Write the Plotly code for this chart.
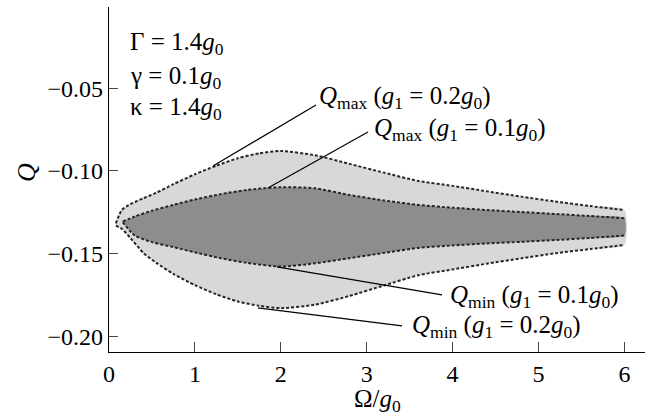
import plotly.graph_objects as go

# ---- data ----
omega_g02 = [0.08, 0.15, 0.25, 0.4, 0.55, 0.75, 1.0, 1.25, 1.5, 1.75, 2.0, 2.4, 2.8, 3.2, 3.6, 4.0, 4.4, 4.8, 5.2, 5.6, 6.0]
qmax_g02 = [-0.1316, -0.1235, -0.1200, -0.1165, -0.1132, -0.1080, -0.1020, -0.0968, -0.0923, -0.0893, -0.0879,
            -0.0905, -0.0957, -0.1010, -0.1060, -0.1090, -0.1123, -0.1155, -0.1185, -0.1212, -0.1236]
qmin_g02 = [-0.1330, -0.1350, -0.1405, -0.1495, -0.1555, -0.1622, -0.1690, -0.1745, -0.1789, -0.1815, -0.1829,
            -0.1808, -0.1755, -0.1692, -0.1630, -0.1595, -0.1560, -0.1528, -0.1497, -0.1472, -0.1447]

omega_g01 = [0.16, 0.3, 0.5, 0.75, 1.0, 1.3, 1.6, 2.0, 2.4, 2.8, 3.2, 3.6, 4.0, 4.4, 4.8, 5.2, 5.6, 6.0]
qmax_g01 = [-0.1306, -0.1275, -0.1240, -0.1205, -0.1172, -0.1140, -0.1115, -0.1098, -0.1105, -0.1145, -0.1178,
            -0.1205, -0.1222, -0.1236, -0.1248, -0.1260, -0.1272, -0.1286]
qmin_g01 = [-0.1310, -0.1390, -0.1430, -0.1460, -0.1492, -0.1527, -0.1555, -0.1578, -0.1558, -0.1527, -0.1495,
            -0.1465, -0.1450, -0.1438, -0.1428, -0.1417, -0.1405, -0.1390]

x_ticks = [0, 1, 2, 3, 4, 5, 6]
y_ticks = [-0.20, -0.15, -0.10, -0.05]
y_tick_labels = ["\u22120.20", "\u22120.15", "\u22120.10", "\u22120.05"]

FONT = "Liberation Serif, Times New Roman, serif"
LIGHT = "#d8d8d8"
DARK = "#8d8d8d"
LINE = "#262626"

fig = go.Figure()

def band(xs, upper, lower, color):
    fig.add_trace(go.Scatter(
        x=xs + xs[::-1], y=upper + lower[::-1], mode="lines",
        line=dict(width=0, shape="spline", smoothing=0.6), fill="toself", fillcolor=color,
        hoverinfo="skip", showlegend=False))

def dashed(xs, ys):
    fig.add_trace(go.Scatter(
        x=xs, y=ys, mode="lines",
        line=dict(color=LINE, width=2, dash="3px,2px", shape="spline", smoothing=0.6),
        hoverinfo="skip", showlegend=False))

band(omega_g02, qmax_g02, qmin_g02, LIGHT)
band(omega_g01, qmax_g01, qmin_g01, DARK)
dashed(omega_g02, qmax_g02)
dashed(omega_g02, qmin_g02)
dashed(omega_g01, qmax_g01)
dashed(omega_g01, qmin_g01)

# leader lines
leaders = [
    (1.21, -0.0970, 2.41, -0.0601),
    (1.85, -0.1103, 3.015, -0.0765),
    (1.955, -0.1580, 3.877, -0.1749),
    (1.733, -0.1827, 3.411, -0.1936),
]
for x0, y0, x1, y1 in leaders:
    fig.add_shape(type="line", x0=x0, y0=y0, x1=x1, y1=y1, xref="x", yref="y",
                  line=dict(color="black", width=1.2))

labels = [
    (2.424, -0.0553, "<i>Q</i><sub>max</sub> (<i>g</i><sub>1</sub> = 0.2<i>g</i><sub>0</sub>)"),
    (3.058, -0.0752, "<i>Q</i><sub>max</sub> (<i>g</i><sub>1</sub> = 0.1<i>g</i><sub>0</sub>)"),
    (3.948, -0.1759, "<i>Q</i><sub>min</sub> (<i>g</i><sub>1</sub> = 0.1<i>g</i><sub>0</sub>)"),
    (3.505, -0.1940, "<i>Q</i><sub>min</sub> (<i>g</i><sub>1</sub> = 0.2<i>g</i><sub>0</sub>)"),
]
for x, y, t in labels:
    fig.add_annotation(x=x, y=y, xref="x", yref="y", text=t, showarrow=False,
                       xanchor="left", yanchor="middle", font=dict(family=FONT, size=25, color="black"))

params = [
    (-0.0227, "\u0393 = 1.4<i>g</i><sub>0</sub>"),
    (-0.0438, "\u03b3 = 0.1<i>g</i><sub>0</sub>"),
    (-0.0625, "\u03ba = 1.4<i>g</i><sub>0</sub>"),
]
for y, t in params:
    fig.add_annotation(x=0.219, y=y, xref="x", yref="y", text=t, showarrow=False,
                       xanchor="left", yanchor="middle", font=dict(family=FONT, size=25, color="black"))

# axis titles (paper coords)
fig.add_annotation(x=(26 - 109) / 536, y=(352 - 173) / 345, xref="paper", yref="paper", text="<i>Q</i>",
                   showarrow=False, textangle=-90, xanchor="center", yanchor="middle",
                   font=dict(family=FONT, size=26, color="black"))
fig.add_annotation(x=(377 - 109) / 536, y=(352 - 400) / 345, xref="paper", yref="paper",
                   text="\u03a9/<i>g</i><sub>0</sub>", showarrow=False, xanchor="center", yanchor="middle",
                   font=dict(family=FONT, size=25, color="black"))

fig.update_layout(
    width=648, height=420,
    margin=dict(l=109, r=3, t=7, b=68),
    paper_bgcolor="white", plot_bgcolor="white",
    font=dict(family=FONT, size=24, color="black"),
    showlegend=False,
)
fig.update_xaxes(range=[0, 6.24], tickvals=x_ticks, ticks="inside", ticklen=10, tickwidth=1.2,
                 showline=True, linecolor="black", linewidth=1.3, showgrid=False, zeroline=False,
                 tickfont=dict(family=FONT, size=24))
fig.update_yaxes(range=[-0.2094, -0.0009], tickvals=y_ticks, ticktext=y_tick_labels, ticks="inside",
                 ticklen=9, tickwidth=1.2, showline=True, linecolor="black", linewidth=1.3,
                 showgrid=False, zeroline=False, tickfont=dict(family=FONT, size=24))

fig.write_html("out.html", config={"displayModeBar": False},
               post_script="document.body.style.margin='0';document.body.style.padding='0';")
